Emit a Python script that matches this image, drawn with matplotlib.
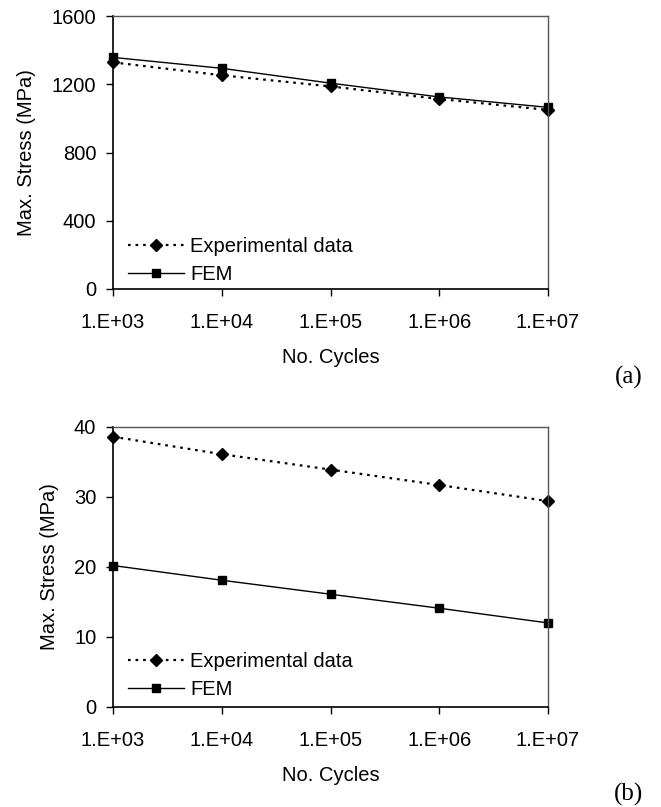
import matplotlib
matplotlib.use("Agg")
import matplotlib.pyplot as plt
from matplotlib.ticker import FixedLocator, FixedFormatter, NullLocator

cycles = [1e3, 1e4, 1e5, 1e6, 1e7]
xtick_labels = ["1.E+03", "1.E+04", "1.E+05", "1.E+06", "1.E+07"]

exp_a = [1329, 1253, 1188, 1114, 1050]
fem_a = [1358, 1294, 1207, 1126, 1065]
yticks_a = [0, 400, 800, 1200, 1600]

exp_b = [38.6, 36.1, 33.9, 31.7, 29.4]
fem_b = [20.2, 18.1, 16.1, 14.1, 12.0]
yticks_b = [0, 10, 20, 30, 40]

plt.rcParams['font.family'] = ['Liberation Sans', 'DejaVu Sans']
FS = 14.5

fig = plt.figure(figsize=(6.61, 8.07), dpi=100)
ax1 = fig.add_axes([0.171, 0.642, 0.658, 0.338])
ax2 = fig.add_axes([0.171, 0.124, 0.658, 0.347])

def style(ax, exp, fem, yticks, leg_y):
    ax.plot(cycles, exp, linestyle=(0, (1.2, 2.2)), color='black', lw=1.6,
            marker='D', markersize=6, label='Experimental data')
    ax.plot(cycles, fem, linestyle='-', color='black', lw=1.0,
            marker='s', markersize=6, label='FEM')
    ax.set_xscale('log')
    ax.set_xlim(1e3, 1e7)
    ax.set_ylim(yticks[0], yticks[-1])
    ax.xaxis.set_major_locator(FixedLocator(cycles))
    ax.xaxis.set_major_formatter(FixedFormatter(xtick_labels))
    ax.xaxis.set_minor_locator(NullLocator())
    ax.set_yticks(yticks)
    ax.tick_params(direction='out', length=5, width=1, labelsize=FS,
                   colors='black')
    ax.tick_params(axis='x', pad=12)
    ax.tick_params(axis='y', pad=7)
    for s in ['left', 'bottom']:
        ax.spines[s].set_color('black')
        ax.spines[s].set_linewidth(1.2)
    for s in ['top', 'right']:
        ax.spines[s].set_color('#555555')
        ax.spines[s].set_linewidth(1.0)
    ax.set_xlabel('No. Cycles', fontsize=FS, labelpad=12)
    ax.set_ylabel('Max. Stress (MPa)', fontsize=FS, labelpad=11)
    ax.legend(loc='center left', bbox_to_anchor=(0.034, leg_y), frameon=False,
              fontsize=FS, handlelength=2.8, handletextpad=0.3,
              labelspacing=0.45, borderaxespad=0, borderpad=0)
    for l in ax.lines:
        l.set_clip_on(False)

style(ax1, exp_a, fem_a, yticks_a, 0.104)
style(ax2, exp_b, fem_b, yticks_b, 0.1125)

fig.text(0.951, 0.532, '(a)', fontsize=18, family=['Liberation Serif', 'DejaVu Serif'],
         ha='center', va='center')
fig.text(0.951, 0.015, '(b)', fontsize=18, family=['Liberation Serif', 'DejaVu Serif'],
         ha='center', va='center')

fig.savefig('out.png', dpi=100)
